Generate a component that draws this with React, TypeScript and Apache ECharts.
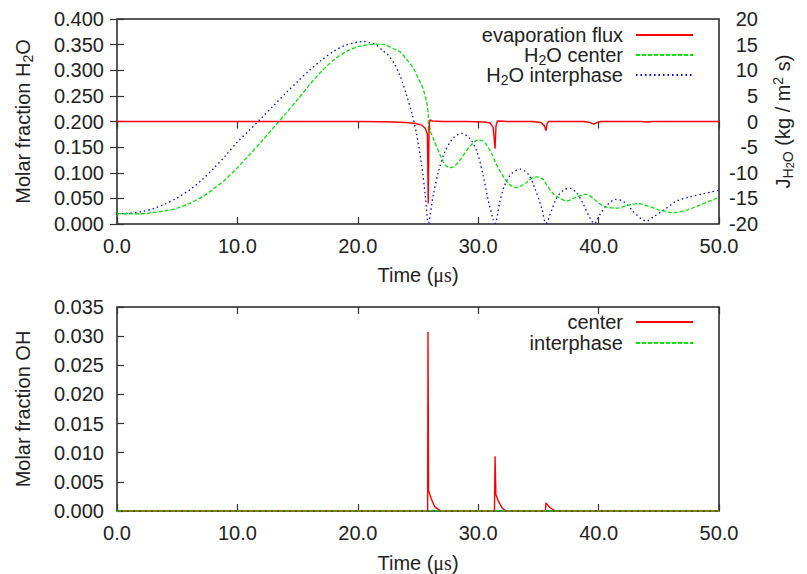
import React, { useEffect, useRef } from 'react';
import * as echarts from 'echarts';

// ---------- data (time in µs) ----------
const h2oCenter: [number, number][] = [
  [0, 0.020], [1, 0.020], [2, 0.020], [3, 0.022], [4, 0.026], [5, 0.031], [6, 0.040], [7, 0.052],
  [8, 0.068], [9, 0.087], [10, 0.110], [11, 0.135], [12, 0.161], [13, 0.188], [14, 0.215],
  [15, 0.243], [16, 0.272], [17, 0.298], [18, 0.320], [19, 0.336], [20, 0.346], [21, 0.350],
  [21.6, 0.351], [22.2, 0.350], [23, 0.342], [23.5, 0.336], [24, 0.323], [24.6, 0.304],
  [25, 0.285], [25.4, 0.265], [25.7, 0.240], [25.85, 0.213], [25.88, 0.180], [25.95, 0.192],
  [26.05, 0.180], [26.27, 0.167], [26.83, 0.135], [27.24, 0.116], [27.66, 0.110], [28.0, 0.112],
  [28.49, 0.125], [29.3, 0.151], [30.0, 0.164], [30.4, 0.162], [30.7, 0.154], [31.1, 0.138],
  [31.54, 0.115], [32.1, 0.092], [32.6, 0.077], [33.2, 0.071], [34.0, 0.081], [34.7, 0.092],
  [35.3, 0.089], [35.7, 0.076], [36.2, 0.060], [36.65, 0.052], [37.35, 0.045], [38.2, 0.053],
  [38.9, 0.058], [39.4, 0.053], [39.85, 0.044], [40.5, 0.034], [41.5, 0.031], [42.5, 0.037],
  [43.3, 0.040], [44.1, 0.035], [45.1, 0.027], [46.2, 0.022], [47.3, 0.027], [48.4, 0.037],
  [49.8, 0.050], [50, 0.051],
];

const h2oInterphase: [number, number][] = [
  [0, 0.020], [1, 0.021], [2, 0.024], [3, 0.030], [4, 0.039], [5, 0.051], [6, 0.066], [7, 0.085],
  [8, 0.108], [9, 0.133], [10, 0.160], [11, 0.183], [12, 0.207], [13, 0.231], [14, 0.255],
  [15, 0.278], [16, 0.300], [17, 0.320], [18, 0.337], [19, 0.349], [20, 0.355], [20.5, 0.356],
  [21, 0.354], [21.5, 0.350], [22, 0.340], [22.5, 0.330], [23, 0.314], [23.5, 0.290],
  [24, 0.255], [24.5, 0.215], [24.9, 0.174], [25.3, 0.115], [25.6, 0.057], [25.86, 0.002],
  [26.27, 0.057], [26.7, 0.102], [27.24, 0.141], [27.93, 0.168], [28.6, 0.177], [29.3, 0.167],
  [29.9, 0.141], [30.4, 0.096], [30.8, 0.050], [31.25, 0.008], [31.4, 0.001], [31.8, 0.044],
  [32.2, 0.076], [32.8, 0.099], [33.5, 0.107], [34.2, 0.096], [34.7, 0.070], [35.27, 0.031],
  [35.63, 0.001], [36.1, 0.027], [36.5, 0.050], [37.07, 0.066], [37.6, 0.070], [38.2, 0.060],
  [38.7, 0.040], [39.3, 0.011], [39.65, 0.001], [40.1, 0.018], [40.7, 0.037], [41.4, 0.048],
  [42.05, 0.044], [42.9, 0.024], [43.6, 0.009], [44.0, 0.006], [44.5, 0.013], [45.4, 0.027],
  [46.5, 0.045], [47.6, 0.053], [48.7, 0.059], [50, 0.066],
];

// evaporation flux J_H2O (kg / m^2 s), right axis
const evaporationFlux: [number, number][] = [
  [0, 0], [10, 0], [20, 0], [22, -0.05], [23, -0.1], [24, -0.2], [24.8, -0.4], [25.3, -0.7],
  [25.6, -1.3], [25.78, -2.5], [25.85, -16], [25.92, -1.0], [26.0, 0.3], [26.2, 0.1], [27, 0],
  [29, 0], [30.5, -0.1], [31.0, -0.3], [31.25, -1.2], [31.4, -5.3], [31.48, -0.8], [31.6, 0.1],
  [32.5, 0], [34.5, 0], [35.2, -0.2], [35.5, -0.8], [35.63, -1.8], [35.72, -0.4], [35.85, 0],
  [38.8, 0], [39.3, -0.2], [39.6, -0.5], [39.85, -0.2], [40.2, 0], [43.5, 0], [44.0, -0.1],
  [44.5, 0], [50, 0],
];

const ohCenter: [number, number][] = [
  [0, 0], [25.8, 0], [25.83, 0.0307], [25.88, 0.0035], [26.1, 0.0021], [26.4, 0.0007],
  [26.8, 0.0001], [27, 0], [31.35, 0], [31.4, 0.0094], [31.47, 0.0028], [31.7, 0.0016],
  [32.0, 0.0005], [32.3, 0], [35.58, 0], [35.63, 0.0014], [35.95, 0.0006], [36.4, 0], [50, 0],
];

const ohInterphase: [number, number][] = [
  [0, 0], [25.8, 0], [26.2, 0.0001], [27, 0], [31.4, 0], [31.6, 0.0001], [32, 0], [50, 0],
];

const timeTickStep = 10;
const h2oTickStep = 0.05;
const fluxTickStep = 5;
const ohTickStep = 0.005;

// ---------- styles ----------
const FONT = "'Liberation Sans', Arial, sans-serif";
const SERIF = "'Liberation Serif', 'DejaVu Serif', serif";
const TXT = '#222';
const nameRich = {
  n: { fontSize: 20, fontFamily: FONT, color: TXT, lineHeight: 24 },
  s: { fontSize: 14, fontFamily: FONT, color: TXT, lineHeight: 14, verticalAlign: 'bottom' },
  ss: { fontSize: 11, fontFamily: FONT, color: TXT, lineHeight: 8, verticalAlign: 'bottom' },
  p: { fontSize: 14, fontFamily: FONT, color: TXT, lineHeight: 14, verticalAlign: 'top' },
  g: { fontSize: 20, fontFamily: SERIF, color: TXT, lineHeight: 24 },
};
const legendRich = {
  n: { fontSize: 20, fontFamily: FONT, color: TXT, lineHeight: 24 },
  s: { fontSize: 14, fontFamily: FONT, color: TXT, lineHeight: 14, verticalAlign: 'bottom' },
};

const RED = '#ff0000';
const GREEN = '#00e800';
const BLUE = '#0000ff';

const label = (digits: number) => ({
  fontSize: 20,
  fontFamily: FONT,
  color: TXT,
  formatter: (v: number) => v.toFixed(digits),
});
const tick = { show: true, inside: true, length: 7, lineStyle: { color: '#333', width: 1.2 } };

export default function App() {
  const ref = useRef<HTMLDivElement>(null);
  useEffect(() => {
    if (!ref.current) return;
    const chart = echarts.init(ref.current, undefined, { renderer: 'svg' });
    const legendFmt = (name: string) =>
      name.startsWith('H2O')
        ? `{n|H}{s|2}{n|O${name.slice(3)}}`
        : `{n|${name}}`;
    const mkLegend = (name: string, top: number) => ({
      data: [name],
      orient: 'horizontal',
      align: 'right',
      right: 113,
      top,
      padding: 0,
      itemWidth: 57,
      itemHeight: 14,
      selectedMode: false,
      itemStyle: { opacity: 0 },
      formatter: legendFmt,
      textStyle: { rich: legendRich, padding: [0, 8, 0, 0] },
    });
    const xBase = (grid: number) => ({
      type: 'value',
      gridIndex: grid,
      min: 0,
      max: 50,
      interval: timeTickStep,
      splitLine: { show: false },
      axisLine: { show: false },
      axisTick: tick,
    });
    chart.setOption({
      animation: false,
      backgroundColor: '#fff',
      grid: [
        { left: 117, top: 19, width: 602, height: 205, show: true, borderColor: '#222', borderWidth: 1.5, backgroundColor: 'transparent' },
        { left: 117, top: 307, width: 602, height: 206, show: true, borderColor: '#222', borderWidth: 1.5, backgroundColor: 'transparent' },
      ],
      legend: [
        mkLegend('evaporation flux', 25),
        mkLegend('H2O center', 45),
        mkLegend('H2O interphase', 65),
        mkLegend('center', 312),
        mkLegend('interphase', 333),
      ],
      xAxis: [
        {
          ...xBase(0),
          position: 'bottom',
          axisLabel: { ...label(1), margin: 12 },
          name: '{n|Time (}{g|μs}{n|)}',
          nameLocation: 'middle',
          nameGap: 39,
          nameTextStyle: { rich: nameRich },
        },
        { ...xBase(0), position: 'top', axisLabel: { show: false } },
        {
          ...xBase(1),
          position: 'bottom',
          axisLabel: { ...label(1), margin: 12 },
          name: '{n|Time (}{g|μs}{n|)}',
          nameLocation: 'middle',
          nameGap: 40,
          nameTextStyle: { rich: nameRich },
        },
        { ...xBase(1), position: 'top', axisLabel: { show: false } },
      ],
      yAxis: [
        {
          type: 'value',
          gridIndex: 0,
          position: 'left',
          min: 0,
          max: 0.4,
          interval: h2oTickStep,
          splitLine: { show: false },
          axisLine: { show: false },
          axisTick: tick,
          axisLabel: { ...label(3), margin: 13 },
          name: '{n|Molar fraction H}{s|2}{n|O}',
          nameLocation: 'middle',
          nameGap: 82,
          nameRotate: 90,
          nameTextStyle: { rich: nameRich },
        },
        {
          type: 'value',
          gridIndex: 0,
          position: 'right',
          min: -20,
          max: 20,
          interval: fluxTickStep,
          splitLine: { show: false },
          axisLine: { show: false },
          axisTick: tick,
          axisLabel: { ...label(0), align: 'right', margin: 39 },
          name: '{n|J}{s|H}{ss|2}{s|O}{n| (kg / m}{p|2}{n| s)}',
          nameLocation: 'middle',
          nameGap: 52,
          nameRotate: 90,
          nameTextStyle: { rich: nameRich },
        },
        {
          type: 'value',
          gridIndex: 1,
          position: 'left',
          min: 0,
          max: 0.035,
          interval: ohTickStep,
          splitLine: { show: false },
          axisLine: { show: false },
          axisTick: tick,
          axisLabel: { ...label(3), margin: 13 },
          name: '{n|Molar fraction OH}',
          nameLocation: 'middle',
          nameGap: 82,
          nameRotate: 90,
          nameTextStyle: { rich: nameRich },
        },
      ],
      series: [
        {
          name: 'evaporation flux', type: 'line', xAxisIndex: 0, yAxisIndex: 1, data: evaporationFlux,
          showSymbol: false, symbol: 'none', lineStyle: { color: RED, width: 1.4 }, itemStyle: { color: RED }, z: 4,
        },
        {
          name: 'H2O center', type: 'line', xAxisIndex: 0, yAxisIndex: 0, data: h2oCenter, smooth: 0.3,
          showSymbol: false, symbol: 'none', lineStyle: { color: GREEN, width: 1.3, type: [4, 2] }, itemStyle: { color: GREEN }, z: 3,
        },
        {
          name: 'H2O interphase', type: 'line', xAxisIndex: 0, yAxisIndex: 0, data: h2oInterphase, smooth: 0.3,
          showSymbol: false, symbol: 'none', lineStyle: { color: BLUE, width: 1.3, type: [1.5, 3] }, itemStyle: { color: BLUE }, z: 2,
        },
        {
          name: 'center', type: 'line', xAxisIndex: 2, yAxisIndex: 2, data: ohCenter,
          showSymbol: false, symbol: 'none', lineStyle: { color: RED, width: 1.4 }, itemStyle: { color: RED }, z: 3,
        },
        {
          name: 'interphase', type: 'line', xAxisIndex: 2, yAxisIndex: 2, data: ohInterphase,
          showSymbol: false, symbol: 'none', lineStyle: { color: GREEN, width: 1.3, type: [4, 2] }, itemStyle: { color: GREEN }, z: 4,
        },
      ],
    });
    return () => chart.dispose();
  }, []);
  return (
    <div
      ref={ref}
      style={{ position: 'fixed', left: 0, top: 0, width: 807, height: 574, background: '#fff' }}
    />
  );
}
